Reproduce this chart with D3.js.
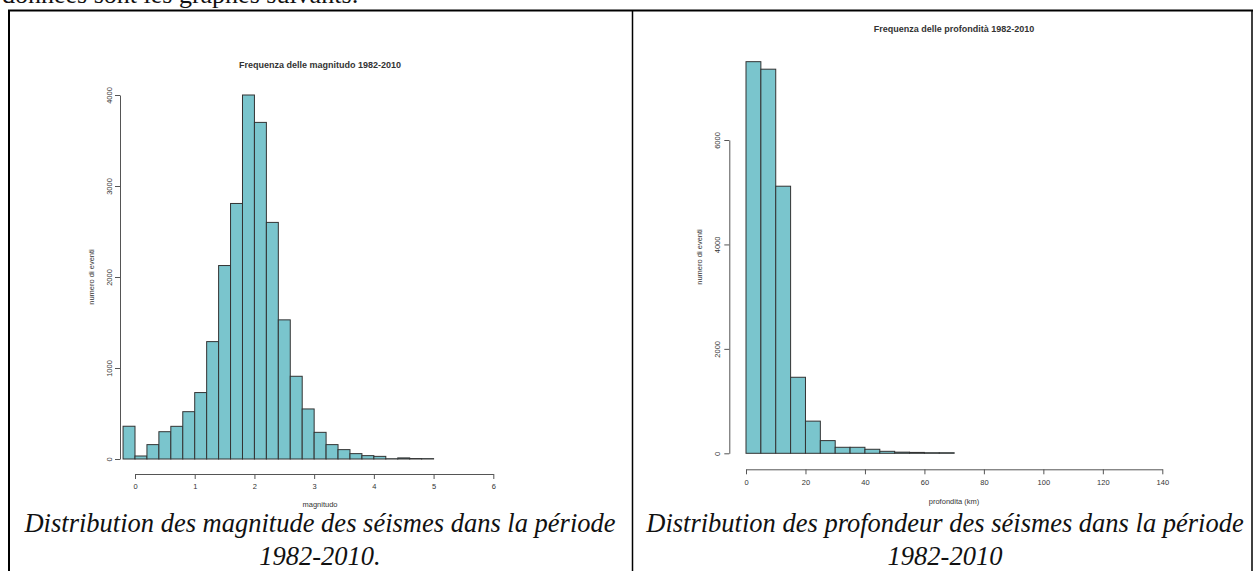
<!DOCTYPE html>
<html>
<head>
<meta charset="utf-8">
<script src="https://cdn.jsdelivr.net/npm/d3@7"></script>
<style>
  html, body { margin: 0; padding: 0; background: #fff; }
  svg { display: block; }
  .rtxt { font-family: "Liberation Sans", Arial, sans-serif; fill: #333; }
  .cap { font-family: "Liberation Serif", "Times New Roman", serif; font-style: italic; font-size: 26.5px; fill: #111; }
</style>
</head>
<body>
<div id="chart"></div>
<script>
// --- magnitude histogram (bin edges + counts) ---
const magEdges = [-0.2, 0, 0.2, 0.4, 0.6, 0.8, 1.0, 1.2, 1.4, 1.6, 1.8, 2.0, 2.2, 2.4, 2.6, 2.8,
  3.0, 3.2, 3.4, 3.6, 3.8, 4.0, 4.2, 4.4, 4.6, 4.8, 5.0, 5.2, 5.4, 5.6, 5.8, 6.0, 6.2, 6.4]
const magCounts = [360, 33, 158, 300, 359, 520, 730, 1290, 2126, 2808, 4000, 3699, 2600, 1529, 909, 550,
  293, 158, 103, 59, 37, 29, 3, 12, 5, 4, 0, 0, 0, 0, 0, 0, 0]
const magXTicks = [0, 1, 2, 3, 4, 5, 6]
const magYTicks = [0, 1000, 2000, 3000, 4000]

// --- depth histogram ---
const depEdges = [0, 5, 10, 15, 20, 25, 30, 35, 40, 45, 50, 55, 60, 65, 70, 75, 80, 85, 90, 95,
  100, 105, 110, 115, 120, 125, 130, 135, 140]
const depCounts = [7500, 7356, 5115, 1456, 616, 243, 115, 115, 77, 38, 22, 17, 11, 11,
  0, 0, 0, 0, 0, 0, 0, 0, 0, 0, 0, 0, 0, 0]
const depXTicks = [0, 20, 40, 60, 80, 100, 120, 140]
const depYTicks = [0, 2000, 4000, 6000]

const width = 1254
const height = 571

const svg = d3.select('#chart').append('svg')
  .attr('width', width)
  .attr('height', height)

// --- page text cut at the top ---
svg.append('text')
  .attr('x', 2).attr('y', 3)
  .attr('font-family', '"Liberation Serif", "Times New Roman", serif')
  .attr('font-size', 26)
  .attr('fill', '#111')
  .text('données sont les graphes suivants:')

// --- table borders ---
const border = svg.append('g').attr('stroke', '#000')
border.append('line').attr('x1', 8).attr('x2', 1253).attr('y1', 10.5).attr('y2', 10.5).attr('stroke-width', 2)
border.append('line').attr('x1', 9).attr('x2', 9).attr('y1', 10).attr('y2', height).attr('stroke-width', 2)
border.append('line').attr('x1', 632.5).attr('x2', 632.5).attr('y1', 10).attr('y2', height).attr('stroke-width', 1.5)
border.append('line').attr('x1', 1252).attr('x2', 1252).attr('y1', 10).attr('y2', height).attr('stroke-width', 1.5)

function histogram(opt) {
  const g = svg.append('g')
  const x = opt.x, y = opt.y
  const bins = opt.counts.map((c, i) => ({x0: opt.edges[i], x1: opt.edges[i + 1], n: c}))

  g.append('g').selectAll('rect')
    .data(bins)
    .join('rect')
      .attr('x', d => x(d.x0))
      .attr('width', d => x(d.x1) - x(d.x0))
      .attr('y', d => y(d.n))
      .attr('height', d => y(0) - y(d.n))
      .attr('fill', '#7AC5CD')
      .attr('stroke', '#333')
      .attr('stroke-width', 1)

  // x axis, R style: line only between first and last tick
  const xa = x.copy().domain(d3.extent(opt.xTicks)).range([x(opt.xTicks[0]), x(opt.xTicks[opt.xTicks.length - 1])])
  const gx = g.append('g')
    .attr('transform', `translate(0,${opt.xAxisY})`)
    .call(d3.axisBottom(xa).tickValues(opt.xTicks).tickSize(5).tickSizeOuter(0).tickPadding(5).tickFormat(d3.format('d')))
  gx.select('.domain').attr('stroke', '#555')
  gx.selectAll('.tick line').attr('stroke', '#555')
  gx.selectAll('.tick text').attr('class', 'rtxt').attr('font-size', 7.5).attr('fill', '#333')

  const ya = y.copy().domain(d3.extent(opt.yTicks)).range([y(opt.yTicks[0]), y(opt.yTicks[opt.yTicks.length - 1])])
  const gy = g.append('g')
    .attr('transform', `translate(${opt.yAxisX},0)`)
    .call(d3.axisLeft(ya).tickValues(opt.yTicks).tickSize(5).tickSizeOuter(0).tickFormat(d3.format('d')))
  gy.select('.domain').attr('stroke', '#555')
  gy.selectAll('.tick line').attr('stroke', '#555')
  gy.selectAll('.tick text')
    .attr('class', 'rtxt')
    .attr('font-size', 7.5)
    .attr('fill', '#333')
    .attr('x', null).attr('dy', null)
    .attr('text-anchor', 'middle')
    .attr('transform', `translate(${opt.yLabX - opt.yAxisX},0) rotate(-90)`)
    .attr('dominant-baseline', 'central')

  g.append('text').attr('class', 'rtxt')
    .attr('x', opt.titleX).attr('y', opt.titleY)
    .attr('text-anchor', 'middle').attr('dominant-baseline', 'central')
    .attr('font-size', 9).attr('font-weight', 'bold').attr('fill', '#111')
    .text(opt.title)

  g.append('text').attr('class', 'rtxt')
    .attr('x', opt.titleX).attr('y', opt.xTitleY)
    .attr('text-anchor', 'middle').attr('dominant-baseline', 'central')
    .attr('font-size', 7.5)
    .text(opt.xTitle)

  g.append('text').attr('class', 'rtxt')
    .attr('transform', `translate(${opt.yTitleX},${opt.yTitleY}) rotate(-90)`)
    .attr('text-anchor', 'middle').attr('dominant-baseline', 'central')
    .attr('font-size', 7.5)
    .text('numero di eventi')
}

histogram({
  edges: magEdges, counts: magCounts, xTicks: magXTicks, yTicks: magYTicks,
  x: d3.scaleLinear().domain([0, 6]).range([135, 493.3]),
  y: d3.scaleLinear().domain([0, 4000]).range([459, 95]),
  xAxisY: 474, yAxisX: 120, yLabX: 109,
  title: 'Frequenza delle magnitudo 1982-2010', titleX: 320, titleY: 65,
  xTitle: 'magnitudo', xTitleY: 504,
  yTitleX: 91, yTitleY: 277
})

histogram({
  edges: depEdges, counts: depCounts, xTicks: depXTicks, yTicks: depYTicks,
  x: d3.scaleLinear().domain([0, 140]).range([746, 1162.3]),
  y: d3.scaleLinear().domain([0, 6000]).range([453.3, 140]),
  xAxisY: 469.3, yAxisX: 729.3, yLabX: 717.5,
  title: 'Frequenza delle profondità 1982-2010', titleX: 954, titleY: 29,
  xTitle: 'profondita (km)', xTitleY: 501.5,
  yTitleX: 699.5, yTitleY: 257
})

// --- captions ---
const captions = [
  {x: 320, lines: ['Distribution des magnitude des séismes dans la période', '1982-2010.']},
  {x: 945, lines: ['Distribution des profondeur des séismes dans la période', '1982-2010']}
]
captions.forEach(function(c) {
  c.lines.forEach(function(l, i) {
    svg.append('text').attr('class', 'cap')
      .attr('x', c.x).attr('y', 532 + i * 33)
      .attr('text-anchor', 'middle')
      .text(l)
  })
})
</script>
</body>
</html>
